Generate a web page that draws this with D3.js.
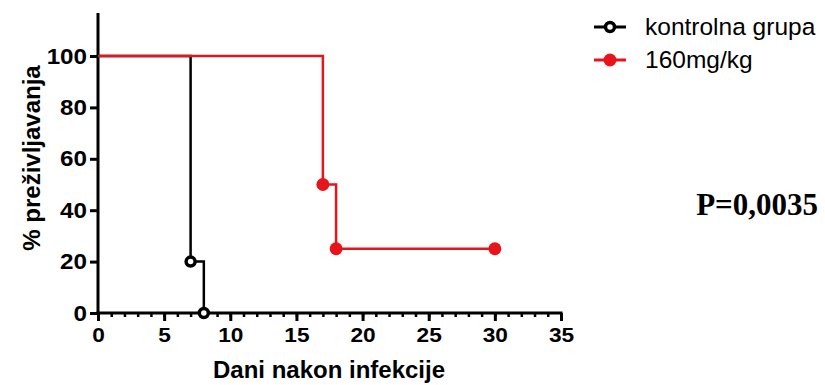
<!DOCTYPE html>
<html>
<head>
  <meta charset="utf-8">
  <style>
    body { margin: 0; background: #fff; }
    text { font-family: "Liberation Sans", Arial, sans-serif; }
  </style>
  <script src="https://cdn.jsdelivr.net/npm/d3@7"></script>
</head>
<body>
<script>
// survival data (day, % survival)
var controlDays = [0, 7, 8];
var controlSurv = [100, 20, 0];
var controlMarks = [[7, 20], [8, 0]];

var doseDays = [0, 17, 18, 30];
var doseSurv = [100, 50, 25, 25];
var doseMarks = [[17, 50], [18, 25], [30, 25]];

var xTicks = [0, 5, 10, 15, 20, 25, 30, 35];
var yTicks = [0, 20, 40, 60, 80, 100];
var seriesNames = ["kontrolna grupa", "160mg/kg"];
var pText = "P=0,0035";

var width = 825, height = 385;
var red = "#e8141b";

var svg = d3.select("body").append("svg")
    .attr("width", width)
    .attr("height", height);

var x = d3.scaleLinear().domain([0, 35]).range([98, 561]);
var y = d3.scaleLinear().domain([0, 100]).range([313, 56]);

// x axis: minor ticks every day, then the labelled ones
var xAxis = svg.append("g")
    .attr("transform", "translate(0," + y(0) + ")");
xAxis.call(d3.axisBottom(x).tickValues(d3.range(0, 36, 1)).tickSize(4).tickFormat(""));
xAxis.selectAll(".tick line").attr("stroke-width", 2.5);
xAxis.select(".domain").attr("stroke-width", 3).attr("d", "M" + (x(0) - 1.5) + ",0H" + (x(35) + 1.5));

var xMajor = svg.append("g")
    .attr("transform", "translate(0," + y(0) + ")")
    .call(d3.axisBottom(x).tickValues(xTicks).tickSize(8).tickPadding(6))
    .attr("font-size", 21).attr("font-weight", "bold")
    .attr("font-family", "Liberation Sans, Arial, sans-serif");
xMajor.select(".domain").remove();
xMajor.selectAll(".tick line").attr("stroke-width", 3);
xMajor.selectAll(".tick text").attr("transform", "scale(1.08,1)");

// y axis
var yAxis = svg.append("g")
    .attr("transform", "translate(" + x(0) + ",0)")
    .call(d3.axisLeft(y).tickValues(yTicks).tickSize(8).tickPadding(2))
    .attr("font-size", 22).attr("font-weight", "bold")
    .attr("font-family", "Liberation Sans, Arial, sans-serif");
yAxis.select(".domain").attr("stroke-width", 3).attr("d", "M0,13V" + (y(0) + 1.5));
yAxis.selectAll(".tick line").attr("stroke-width", 3);
yAxis.selectAll(".tick text").attr("transform", "scale(1.1,1)");

// step lines
var line = d3.line()
    .x(function(d) { return x(d[0]); })
    .y(function(d) { return y(d[1]); })
    .curve(d3.curveStepAfter);

var controlPts = controlDays.map(function(d, i) { return [d, controlSurv[i]]; });
var dosePts = doseDays.map(function(d, i) { return [d, doseSurv[i]]; });

svg.append("path").datum(controlPts)
    .attr("d", line).attr("fill", "none")
    .attr("stroke", "#000").attr("stroke-width", 2.5);

svg.append("path").datum(dosePts)
    .attr("d", line).attr("fill", "none")
    .attr("stroke", red).attr("stroke-width", 2.5);

svg.selectAll(".cm").data(controlMarks).enter().append("circle")
    .attr("cx", function(d) { return x(d[0]); })
    .attr("cy", function(d) { return y(d[1]); })
    .attr("r", 4.5).attr("fill", "#fff")
    .attr("stroke", "#000").attr("stroke-width", 3.5);

svg.selectAll(".dm").data(doseMarks).enter().append("circle")
    .attr("cx", function(d) { return x(d[0]); })
    .attr("cy", function(d) { return y(d[1]); })
    .attr("r", 6.5).attr("fill", red);

// axis titles
svg.append("text")
    .attr("transform", "translate(40,158) rotate(-90)")
    .attr("text-anchor", "middle")
    .style("font-size", "24px").style("font-weight", "bold")
    .text("% preživljavanja");

svg.append("text")
    .attr("x", 329).attr("y", 378)
    .attr("text-anchor", "middle")
    .style("font-size", "24px").style("font-weight", "bold")
    .text("Dani nakon infekcije");

// legend
var legend = svg.append("g");
var legY = [27, 60];
var legColor = ["#000", red];
legend.selectAll(".ll").data(seriesNames).enter().append("line")
    .attr("x1", 594).attr("x2", 626)
    .attr("y1", function(d, i) { return legY[i]; })
    .attr("y2", function(d, i) { return legY[i]; })
    .attr("stroke", function(d, i) { return legColor[i]; })
    .attr("stroke-width", 3);
legend.append("circle").attr("cx", 610).attr("cy", legY[0]).attr("r", 4.5)
    .attr("fill", "#fff").attr("stroke", "#000").attr("stroke-width", 3.5);
legend.append("circle").attr("cx", 610).attr("cy", legY[1]).attr("r", 6.5)
    .attr("fill", red);
legend.selectAll(".lt").data(seriesNames).enter().append("text")
    .attr("x", 645)
    .attr("y", function(d, i) { return legY[i] + 8; })
    .style("font-size", "24.5px")
    .text(function(d) { return d; });

svg.append("text")
    .attr("x", 818).attr("y", 215)
    .attr("text-anchor", "end")
    .style("font-family", "Liberation Serif, Times New Roman, serif")
    .style("font-size", "31px").style("font-weight", "bold")
    .text(pText);
</script>
</body>
</html>
